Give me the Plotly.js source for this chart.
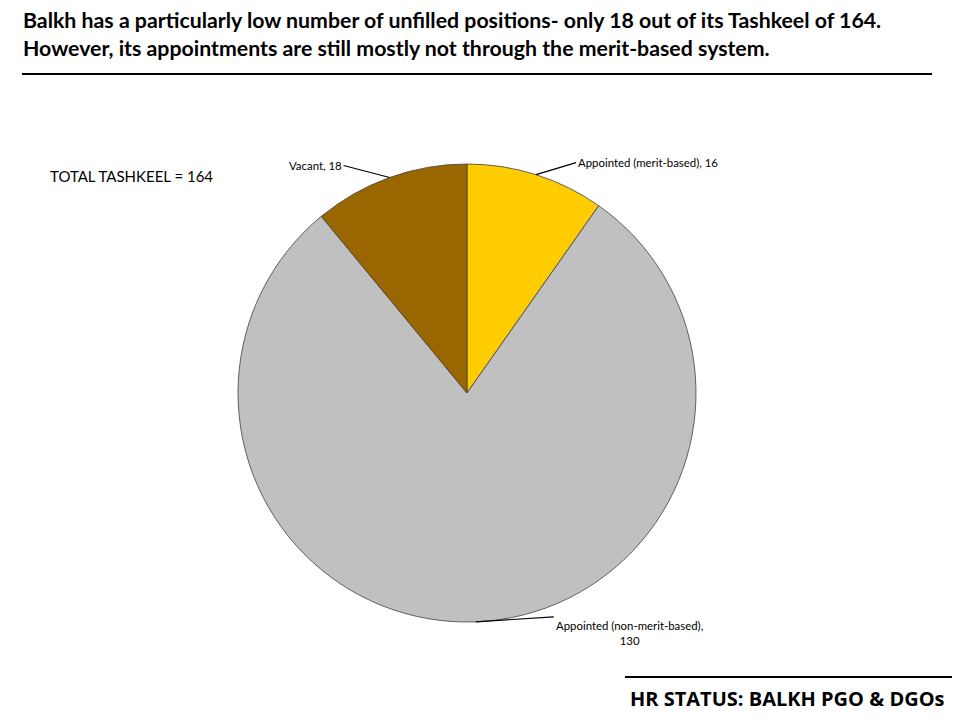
<!DOCTYPE html>
<html><head><meta charset="utf-8">
<script src="https://cdn.plot.ly/plotly-3.0.1.min.js"></script>
<style>html,body{margin:0;padding:0;background:#fff}#chart{width:960px;height:720px}</style>
</head><body><div id="chart"></div>
<script>
const categories = ["Appointed (merit-based)", "Appointed (non-merit-based)", "Vacant"];
const values = [16, 130, 18];
const colors = ["#FFCC00", "#C0C0C0", "#996600"];
const labelTexts = ["Appointed (merit-based), 16", "Appointed (non-merit-based),<br>130", "Vacant, 18"];
const titleLines = ["Balkh has a particularly low number of unfilled positions- only 18 out of its Tashkeel of 164.",
                    "However, its appointments are still mostly not through the merit-based system."];
const footerText = "HR STATUS: BALKH PGO &amp; DGOs";
const totalText = "TOTAL TASHKEEL = " + values.reduce((a,b)=>a+b,0);

const W = 960, H = 720;
const cx = 467, cy = 393, r = 229;
const dom = {x:[(cx-r)/W,(cx+r)/W], y:[1-(cy+r)/H, 1-(cy-r)/H]};

const total = values.reduce((a,b)=>a+b,0);
const offsets = [[40,-12,'left','middle'],[78,-5,'left','top'],[-46,-12,'right','middle']];
let cum = 0;
const anns = values.map((v,i)=>{
  const mid = (cum + v/2)/total*2*Math.PI; cum += v;
  const px = cx + r*Math.sin(mid), py = cy - r*Math.cos(mid);
  const o = offsets[i];
  return {x:px/W, y:1-py/H, xref:'paper', yref:'paper', text:labelTexts[i],
    showarrow:true, arrowhead:0, arrowwidth:1.2, arrowcolor:'#000', standoff:0,
    ax:o[0], ay:o[1], xanchor:o[2], yanchor:o[3], align:'center',
    font:{family:'Lato, sans-serif', size:11.4, color:'#000'}};
});
titleLines.forEach((t,i)=>anns.push({x:21/W, y:1-(20+28*i)/H, xref:'paper', yref:'paper', xanchor:'left', yanchor:'middle', align:'left',
  showarrow:false, text:'<b>'+t+'</b>', font:{family:'Lato, sans-serif', size:21.3, color:'#000'}}));
anns.push({x:628/W, y:1-698/H, xref:'paper', yref:'paper', xanchor:'left', yanchor:'middle',
  showarrow:false, text:'<b>'+footerText+'</b>', font:{family:'Open Sans, sans-serif', size:20, color:'#000'}});
anns.push({x:48/W, y:1-176/H, xref:'paper', yref:'paper', xanchor:'left', yanchor:'middle',
  showarrow:false, text:totalText, font:{family:'Lato, sans-serif', size:15, color:'#000'}});

Plotly.newPlot('chart', [{
  type:'pie', labels:categories, values:values, sort:false, direction:'clockwise', rotation:0,
  marker:{colors:colors, line:{color:'#404040', width:0.8}},
  textinfo:'none', hoverinfo:'label+value', domain:dom, showlegend:false
}], {
  width:W, height:H, margin:{l:0,r:0,t:0,b:0}, paper_bgcolor:'#fff', plot_bgcolor:'#fff',
  showlegend:false, annotations:anns,
  shapes:[
    {type:'line', xref:'paper', yref:'paper', x0:22/W, x1:932/W, y0:1-74/H, y1:1-74/H, line:{color:'#000', width:2}},
    {type:'line', xref:'paper', yref:'paper', x0:625/W, x1:952/W, y0:1-677/H, y1:1-677/H, line:{color:'#000', width:2}}
  ]
}, {displayModeBar:false, staticPlot:true});
</script></body></html>
